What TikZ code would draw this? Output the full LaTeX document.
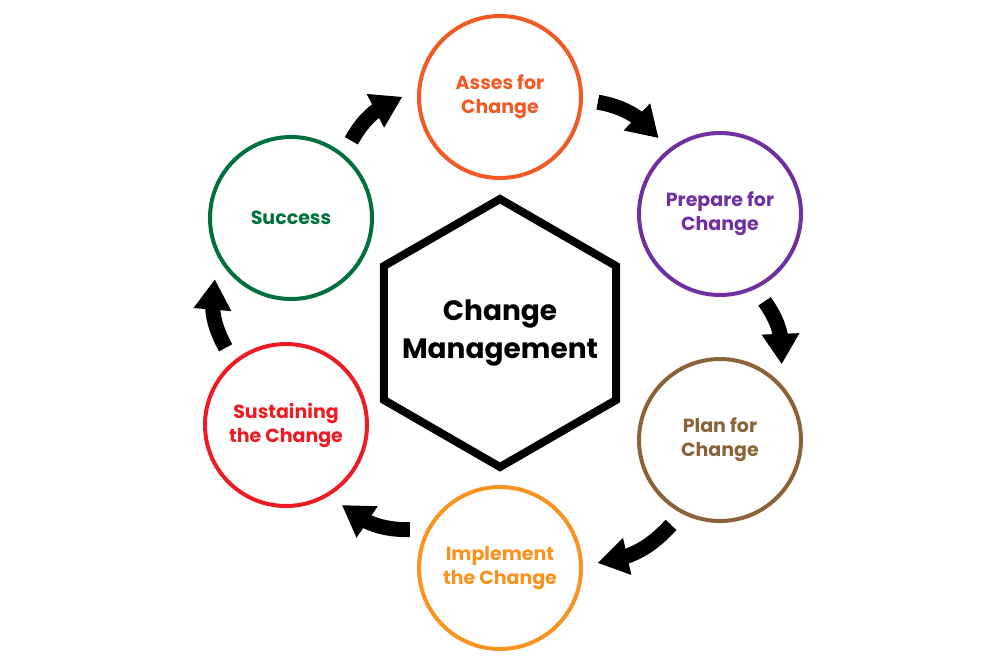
\documentclass[tikz,border=0pt]{standalone}
\usepackage{fontspec}
\setmainfont{Poppins}
\usetikzlibrary{arrows.meta,bending,shapes.geometric}
\definecolor{assescol}{HTML}{F15A24}
\definecolor{preparecol}{HTML}{7030A0}
\definecolor{plancol}{HTML}{8C6239}
\definecolor{implementcol}{HTML}{F7931E}
\definecolor{sustaincol}{HTML}{ED1C24}
\definecolor{successcol}{HTML}{00703C}

\begin{document}
\begin{tikzpicture}[x=1pt,y=-1pt]
        \tikzset{stage/.style={draw,circle,line width=4pt,minimum size=162pt,inner sep=0pt,
                outer sep=17pt,align=center,font=\fontsize{19}{24}\selectfont\bfseries},
            hub/.style={draw,regular polygon,regular polygon sides=6,shape border rotate=90,
                line width=8pt,minimum size=268pt,inner sep=0pt},
            hubtitle/.style={align=center,font=\fontsize{28}{38}\selectfont\bfseries},
            flow/.style={line width=15pt,
                -{Triangle[width=38pt,length=30pt,line width=0pt,flex]}}}
        \useasboundingbox (0,0) rectangle (1000,667);
        \node[hub] (hub) at (500,333) {};
        \node[hubtitle] (title) at (hub.center) {Change\\Management};
        \node[stage,assescol] (asses) at (500,97) {Asses for\\Change};
        \node[stage,preparecol] (prepare) at (720,214) {Prepare for\\Change};
        \node[stage,plancol] (plan) at (720,440) {Plan for\\Change};
        \node[stage,implementcol] (implement) at (500,568) {Implement\\the Change};
        \node[stage,sustaincol] (sustain) at (286,425) {Sustaining\\the Change};
        \node[stage,successcol] (success) at (291,218) {Success};
        \draw[flow] (success.52) to[bend left=20] (asses.180);
        \draw[flow] (asses.-3) to[bend left=20] (prepare.129);
        \draw[flow] (prepare.-63) to[bend left=20] (plan.51);
        \draw[flow] (plan.-120) to[bend left=20] (implement.3);
        \draw[flow] (implement.157) to[bend left=20] (sustain.-55);
        \draw[flow] (sustain.128) to[bend left=20] (success.-141);
    \end{tikzpicture}
\end{document}
